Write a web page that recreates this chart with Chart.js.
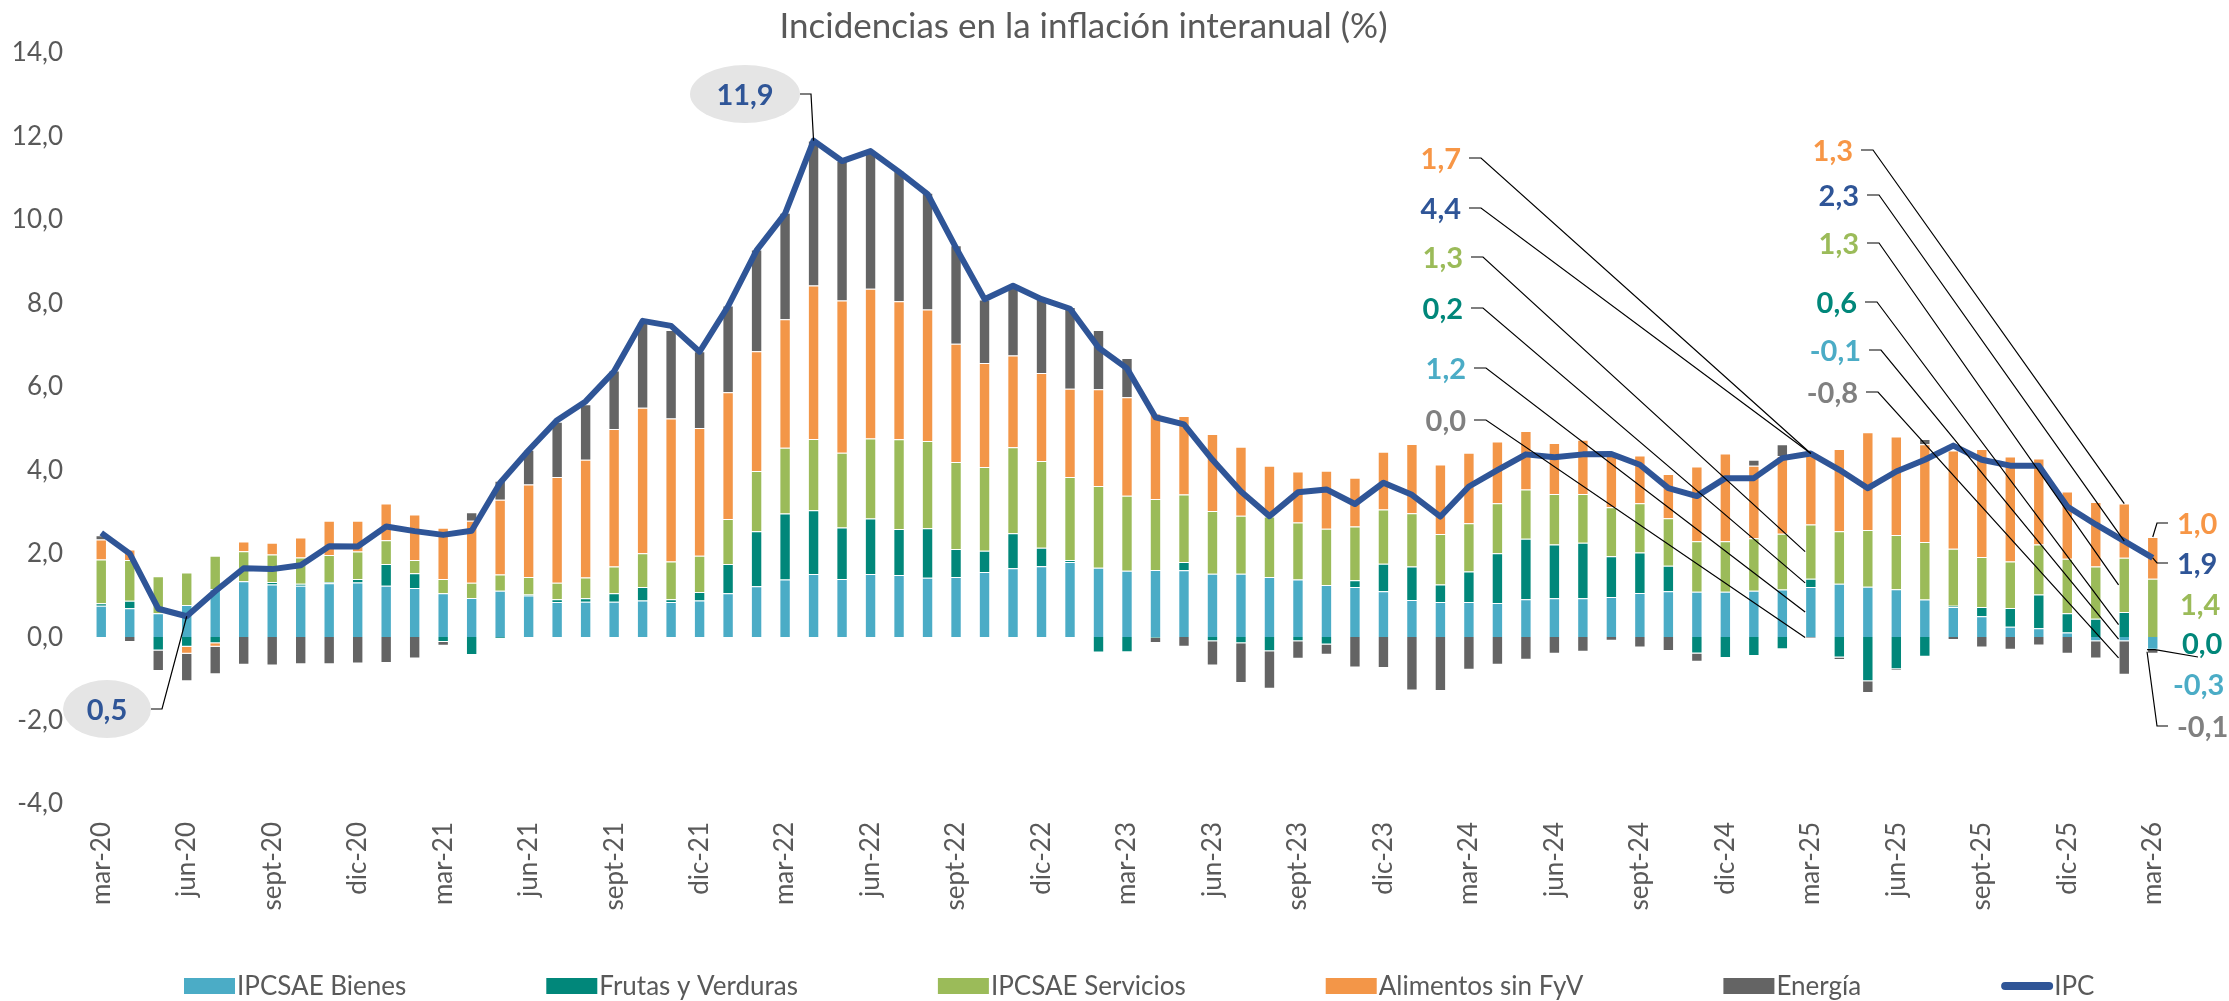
<!DOCTYPE html>
<html>
<head>
<meta charset="utf-8">
<script src="https://cdn.jsdelivr.net/npm/chart.js@4.4.1/dist/chart.umd.min.js"></script>
<style>
  html, body { margin: 0; padding: 0; background: #fff; }
</style>
</head>
<body>
<canvas id="chart" width="2229" height="1001"></canvas>
<script>
const meses = [
  'mar-20', 'abr-20', 'may-20', 'jun-20', 'jul-20', 'ago-20', 'sept-20', 'oct-20', 'nov-20', 'dic-20',
  'ene-21', 'feb-21', 'mar-21', 'abr-21', 'may-21', 'jun-21', 'jul-21', 'ago-21', 'sept-21', 'oct-21', 'nov-21', 'dic-21',
  'ene-22', 'feb-22', 'mar-22', 'abr-22', 'may-22', 'jun-22', 'jul-22', 'ago-22', 'sept-22', 'oct-22', 'nov-22', 'dic-22',
  'ene-23', 'feb-23', 'mar-23', 'abr-23', 'may-23', 'jun-23', 'jul-23', 'ago-23', 'sept-23', 'oct-23', 'nov-23', 'dic-23',
  'ene-24', 'feb-24', 'mar-24', 'abr-24', 'may-24', 'jun-24', 'jul-24', 'ago-24', 'sept-24', 'oct-24', 'nov-24', 'dic-24',
  'ene-25', 'feb-25', 'mar-25', 'abr-25', 'may-25', 'jun-25', 'jul-25', 'ago-25', 'sept-25', 'oct-25', 'nov-25', 'dic-25',
  'ene-26', 'feb-26', 'mar-26'
]
const bienes = [
  0.75, 0.69, 0.57, 0.77, 1.15, 1.34, 1.26, 1.23, 1.29, 1.31,
  1.23, 1.18, 1.05, 0.94, 1.11, 1.00, 0.84, 0.85, 0.85, 0.88, 0.84, 0.88,
  1.05, 1.22, 1.38, 1.51, 1.39, 1.51, 1.49, 1.42, 1.44, 1.56, 1.65, 1.70,
  1.80, 1.66, 1.59, 1.61, 1.60, 1.52, 1.52, 1.44, 1.38, 1.25, 1.20, 1.10,
  0.89, 0.84, 0.84, 0.82, 0.91, 0.93, 0.93, 0.96, 1.06, 1.10, 1.09, 1.09,
  1.11, 1.14, 1.2, 1.28, 1.21, 1.15, 0.90, 0.72, 0.50, 0.25, 0.21, 0.11,
  -0.10, -0.1, -0.3
]
const frutasVerduras = [
  0.06, 0.18, -0.32, -0.23, -0.15, 0.00, 0.06, 0.05, 0.03, 0.08,
  0.52, 0.35, -0.12, -0.43, -0.03, 0.02, 0.07, 0.08, 0.20, 0.32, 0.07, 0.20,
  0.70, 1.32, 1.58, 1.53, 1.24, 1.33, 1.10, 1.19, 0.67, 0.51, 0.84, 0.44,
  0.05, -0.37, -0.36, -0.02, 0.20, -0.10, -0.15, -0.34, -0.10, -0.18, 0.16, 0.66,
  0.80, 0.42, 0.73, 1.19, 1.45, 1.29, 1.33, 0.98, 0.97, 0.61, -0.39, -0.50,
  -0.45, -0.29, 0.2, -0.49, -1.06, -0.77, -0.47, 0.03, 0.22, 0.45, 0.81, 0.46,
  0.44, 0.6, 0.0
]
const servicios = [
  1.05, 0.98, 0.89, 0.78, 0.80, 0.72, 0.66, 0.63, 0.65, 0.66,
  0.57, 0.32, 0.34, 0.36, 0.39, 0.42, 0.39, 0.50, 0.64, 0.81, 0.90, 0.87,
  1.08, 1.44, 1.58, 1.71, 1.79, 1.92, 2.15, 2.09, 2.09, 2.01, 2.06, 2.08,
  1.99, 1.96, 1.80, 1.70, 1.62, 1.50, 1.39, 1.45, 1.37, 1.35, 1.29, 1.30,
  1.28, 1.21, 1.16, 1.20, 1.18, 1.21, 1.17, 1.17, 1.18, 1.14, 1.21, 1.21,
  1.26, 1.34, 1.3, 1.26, 1.36, 1.30, 1.38, 1.37, 1.20, 1.11, 1.20, 1.31,
  1.25, 1.3, 1.4
]
const alimentos = [
  0.48, 0.25, 0.00, -0.17, -0.08, 0.23, 0.28, 0.48, 0.82, 0.74,
  0.88, 1.09, 1.23, 1.49, 1.79, 2.22, 2.54, 2.82, 3.30, 3.49, 3.43, 3.06,
  3.04, 2.87, 3.08, 3.68, 3.65, 3.59, 3.31, 3.15, 2.83, 2.49, 2.20, 2.11,
  2.11, 2.32, 2.36, 2.05, 1.88, 1.85, 1.65, 1.22, 1.22, 1.39, 1.17, 1.38,
  1.66, 1.67, 1.69, 1.48, 1.40, 1.22, 1.30, 1.32, 1.14, 1.06, 1.79, 2.10,
  1.74, 1.86, 1.7, 1.97, 2.34, 2.36, 2.34, 2.35, 2.59, 2.52, 2.06, 1.61,
  1.55, 1.3, 1.0
]
const energia = [
  0.10, -0.12, -0.49, -0.66, -0.66, -0.66, -0.68, -0.65, -0.65, -0.63,
  -0.62, -0.51, -0.09, 0.20, 0.46, 0.83, 1.32, 1.33, 1.40, 2.06, 2.12, 1.84,
  2.08, 2.44, 2.55, 3.47, 3.35, 3.26, 3.13, 2.80, 2.36, 1.52, 1.64, 1.78,
  1.96, 1.42, 0.94, -0.12, -0.23, -0.58, -0.95, -0.90, -0.42, -0.24, -0.73, -0.74,
  -1.28, -1.29, -0.78, -0.66, -0.54, -0.40, -0.35, -0.09, -0.25, -0.33, -0.20, 0.00,
  0.14, 0.28, -0.02, -0.06, -0.28, -0.04, 0.13, -0.07, -0.25, -0.30, -0.20, -0.40,
  -0.41, -0.8, -0.1
]
const ipc = [
  2.50, 2.00, 0.68, 0.5, 1.10, 1.65, 1.63, 1.72, 2.18, 2.17,
  2.65, 2.54, 2.45, 2.55, 3.70, 4.48, 5.20, 5.65, 6.37, 7.58, 7.46, 6.84,
  7.93, 9.27, 10.15, 11.9, 11.41, 11.65, 11.15, 10.62, 9.33, 8.10, 8.42, 8.10,
  7.87, 6.94, 6.44, 5.27, 5.10, 4.25, 3.49, 2.90, 3.47, 3.54, 3.19, 3.70,
  3.41, 2.89, 3.61, 4.00, 4.38, 4.31, 4.38, 4.39, 4.13, 3.57, 3.38, 3.81,
  3.81, 4.29, 4.4, 4.01, 3.57, 3.97, 4.25, 4.59, 4.25, 4.11, 4.11, 3.13,
  2.70, 2.3, 1.9
]

const colores = {
  bienes: '#4BACC6',
  fyv: '#01877A',
  servicios: '#9BBB59',
  alimentos: '#F39648',
  energia: '#646464',
  ipc: '#2F5597'
}
// colores de las etiquetas de datos
const texto = {
  bienes: '#4BACC6',
  fyv: '#01877A',
  servicios: '#9BBB59',
  alimentos: '#F79646',
  energia: '#808080',
  ipc: '#2F5597'
}

const fuente = 'Lato, "Liberation Sans", sans-serif'
const gris = '#595959'
const fmt = v => (Math.round(v * 10) / 10).toFixed(1).replace('.', ',')

const barras = (label, data, color) => ({
  type: 'bar',
  label: label,
  data: data,
  backgroundColor: color,
  borderColor: 'rgba(255,255,255,0.45)',
  borderWidth: 1,
  barPercentage: 0.4,
  categoryPercentage: 1,
  order: 1
})

// etiquetas con línea guía: ds = índice del dataset, i = mes
// tipo 'der' = texto a la izquierda y guía hacia la derecha, 'izq' = al revés
const etiquetas = [
  { ds: 3, i: 60, x: 1461, y: 158, tipo: 'der', fin: 'arriba', color: texto.alimentos },
  { ds: 5, i: 60, x: 1461, y: 208, tipo: 'der', fin: 'punto', color: texto.ipc },
  { ds: 2, i: 60, x: 1463, y: 257, tipo: 'der', fin: 'medio', color: texto.servicios },
  { ds: 1, i: 60, x: 1463, y: 308, tipo: 'der', fin: 'medio', color: texto.fyv },
  { ds: 0, i: 60, x: 1466, y: 368, tipo: 'der', fin: 'medio', color: texto.bienes },
  { ds: 4, i: 60, x: 1466, y: 420, tipo: 'der', fin: 'medio', color: texto.energia },
  { ds: 3, i: 71, x: 1853, y: 150, tipo: 'der', fin: 'arriba', color: texto.alimentos },
  { ds: 5, i: 71, x: 1859, y: 195, tipo: 'der', fin: 'punto', color: texto.ipc },
  { ds: 2, i: 71, x: 1859, y: 243, tipo: 'der', fin: 'medio', color: texto.servicios },
  { ds: 1, i: 71, x: 1857, y: 302, tipo: 'der', fin: 'medio', color: texto.fyv },
  { ds: 0, i: 71, x: 1861, y: 350, tipo: 'der', fin: 'medio', color: texto.bienes },
  { ds: 4, i: 71, x: 1858, y: 392, tipo: 'der', fin: 'medio', color: texto.energia },
  { ds: 3, i: 72, x: 2177, y: 523, tipo: 'izq', fin: 'arriba', color: texto.alimentos },
  { ds: 5, i: 72, x: 2177, y: 563, tipo: 'izq', fin: 'punto', color: texto.ipc },
  { ds: 2, i: 72, x: 2180, y: 604, tipo: 'nada', color: texto.servicios },
  { ds: 1, i: 72, x: 2182, y: 643, tipo: 'bajo', fin: 'medio', color: texto.fyv },
  { ds: 0, i: 72, x: 2173, y: 684, tipo: 'nada', color: texto.bienes },
  { ds: 4, i: 72, x: 2177, y: 726, tipo: 'izq', fin: 'medio', color: texto.energia }
]
// globos grises del IPC (mínimo y máximo)
const globos = [
  { i: 3, cx: 107, cy: 709, rx: 44, ry: 29 },
  { i: 25, cx: 745, cy: 94, rx: 55, ry: 29 }
]

const extremo = (chart, e) => {
  const el = chart.getDatasetMeta(e.ds).data[e.i]
  if (e.fin === 'punto') return { x: el.x, y: el.y }
  if (e.fin === 'arriba') return { x: el.x, y: Math.min(el.y, el.base) }
  return { x: el.x - el.width / 2, y: (el.y + el.base) / 2 }
}

const etiquetasPlugin = {
  id: 'etiquetas',
  afterDatasetsDraw(chart) {
    const ctx = chart.ctx
    ctx.save()
    ctx.lineWidth = 1.2
    ctx.strokeStyle = '#000'
    ctx.font = `bold 29px ${fuente}`
    ctx.textBaseline = 'middle'
    etiquetas.forEach(e => {
      const valor = chart.data.datasets[e.ds].data[e.i]
      if (e.tipo !== 'nada') {
        const p = extremo(chart, e)
        ctx.beginPath()
        if (e.tipo === 'der') {
          ctx.moveTo(e.x + 8, e.y)
          ctx.lineTo(e.x + 20, e.y)
        } else if (e.tipo === 'izq') {
          ctx.moveTo(e.x - 9, e.y)
          ctx.lineTo(e.x - 20, e.y)
        } else {
          ctx.moveTo(e.x + 16, e.y + 14)
          ctx.lineTo(p.x + 8, p.y)
        }
        ctx.lineTo(p.x, p.y)
        ctx.stroke()
      }
      ctx.fillStyle = e.color
      ctx.textAlign = e.tipo === 'der' ? 'right' : 'left'
      ctx.fillText(fmt(valor), e.x, e.y + 2)
    })
    globos.forEach(g => {
      const el = chart.getDatasetMeta(5).data[g.i]
      ctx.beginPath()
      ctx.moveTo(g.cx + g.rx, g.cy)
      ctx.lineTo(g.cx + g.rx + 11, g.cy)
      ctx.lineTo(el.x, el.y)
      ctx.stroke()
      ctx.beginPath()
      ctx.ellipse(g.cx, g.cy, g.rx, g.ry, 0, 0, Math.PI * 2)
      ctx.fillStyle = '#E5E5E5'
      ctx.fill()
      ctx.fillStyle = colores.ipc
      ctx.textAlign = 'center'
      ctx.fillText(fmt(chart.data.datasets[5].data[g.i]), g.cx, g.cy + 2)
    })
    ctx.restore()
  }
}

// leyenda inferior con separación fija entre elementos
const leyendaPlugin = {
  id: 'leyenda',
  afterDraw(chart) {
    const ctx = chart.ctx
    const y = 986
    let x = 184
    ctx.save()
    ctx.font = `26px ${fuente}`
    ctx.textBaseline = 'middle'
    ctx.textAlign = 'left'
    chart.data.datasets.forEach(ds => {
      if (ds.type === 'line') {
        ctx.strokeStyle = ds.borderColor
        ctx.lineWidth = 8
        ctx.lineCap = 'round'
        ctx.beginPath()
        ctx.moveTo(x + 4, y)
        ctx.lineTo(x + 48, y)
        ctx.stroke()
      } else {
        ctx.fillStyle = ds.backgroundColor
        ctx.fillRect(x, y - 8, 51, 16)
      }
      ctx.fillStyle = gris
      ctx.fillText(ds.label, x + 53, y + 1)
      x += 53 + ctx.measureText(ds.label).width + 140
    })
    ctx.restore()
  }
}

new Chart(document.getElementById('chart'), {
  type: 'bar',
  data: {
    labels: meses,
    datasets: [
      barras('IPCSAE Bienes', bienes, colores.bienes),
      barras('Frutas y Verduras', frutasVerduras, colores.fyv),
      barras('IPCSAE Servicios', servicios, colores.servicios),
      barras('Alimentos sin FyV', alimentos, colores.alimentos),
      barras('Energía', energia, colores.energia),
      {
        type: 'line',
        label: 'IPC',
        data: ipc,
        stack: 'ipc',
        borderColor: colores.ipc,
        backgroundColor: colores.ipc,
        borderWidth: 6,
        borderJoinStyle: 'round',
        pointRadius: 0,
        tension: 0,
        order: 0
      }
    ]
  },
  options: {
    responsive: false,
    animation: false,
    devicePixelRatio: 1,
    layout: { padding: { left: 0, right: 62, top: 0, bottom: 67 } },
    plugins: {
      legend: { display: false },
      tooltip: { enabled: false },
      title: {
        display: true,
        text: 'Incidencias en la inflación interanual (%)',
        color: gris,
        font: { family: fuente, size: 35, weight: 'normal' },
        padding: { top: 6, bottom: 5 }
      }
    },
    scales: {
      x: {
        stacked: true,
        grid: { display: false },
        border: { display: false },
        ticks: {
          autoSkip: false,
          maxRotation: 90,
          minRotation: 90,
          padding: 10,
          color: gris,
          font: { family: fuente, size: 26 },
          callback: (v, i) => i % 3 === 0 ? meses[i] : ''
        },
        afterFit: s => { s.height = 130 }
      },
      y: {
        stacked: true,
        min: -4,
        max: 14,
        grid: { display: false },
        border: { display: false },
        ticks: {
          stepSize: 2,
          padding: 16,
          color: gris,
          font: { family: fuente, size: 26 },
          callback: v => v.toFixed(1).replace('.', ',')
        },
        afterFit: s => { s.width = 87 }
      }
    }
  },
  plugins: [etiquetasPlugin, leyendaPlugin]
})
</script>
</body>
</html>
